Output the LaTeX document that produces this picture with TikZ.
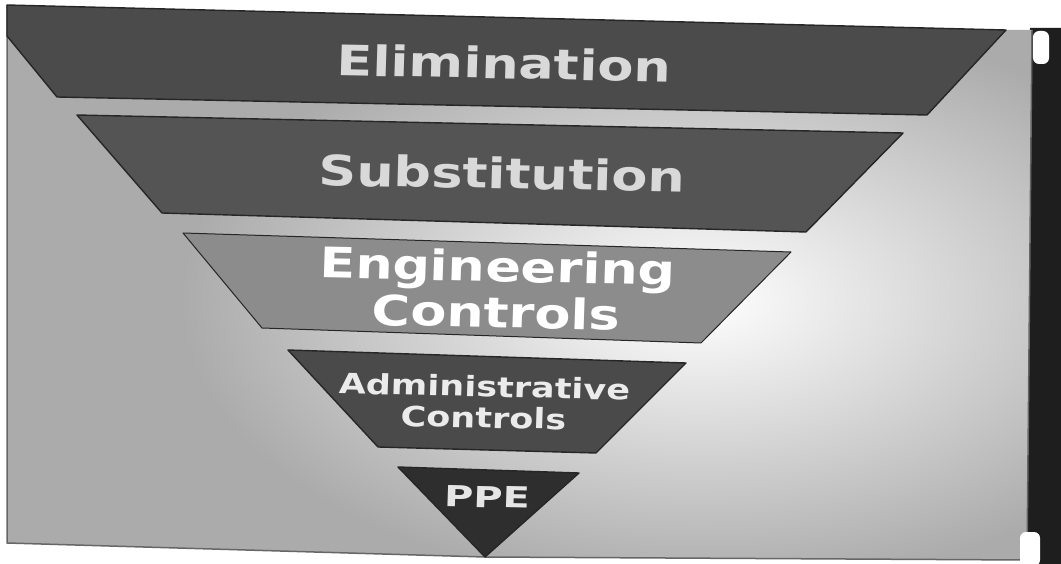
\documentclass[tikz,border=0pt]{standalone}
\usepackage{fontspec}
\newfontfamily\lblfont{DejaVu Sans}
\definecolor{panel}{HTML}{ABABAB}
\definecolor{bandelim}{HTML}{4B4B4B}
\definecolor{bandsub}{HTML}{545454}
\definecolor{bandeng}{HTML}{8C8C8C}
\definecolor{bandadm}{HTML}{4A4A4A}
\definecolor{bandppe}{HTML}{2E2E2E}
\definecolor{strip}{HTML}{1E1E1E}
\begin{document}
\begin{tikzpicture}[x=1pt,y=-1pt,
  band/.style={draw=black!85, line width=1.4pt, line join=round},
  lbl/.style={font=\lblfont\bfseries, xscale=1.25, align=center, inner sep=0pt},
]
\useasboundingbox (0,0) rectangle (1061,564);
\fill[white] (0,0) rectangle (1061,564);
% dark strip at the right
\fill[strip] (1030,28) -- (1061,28) -- (1061,564) -- (1024,564) -- cycle;
% panel background
\begin{scope}
  \clip (7,5) -- (1006,30) -- (1032,30) -- (1027,560) -- (485,557) -- (7,543) -- cycle;
  \fill[panel] (0,0) rectangle (1061,564);
  \shade[inner color=white, outer color=panel] (700,300) ellipse (520 and 290);
\end{scope}
\draw[black!60, line width=1.5pt, line join=round]
  (1032,30) -- (1027,560) -- (485,557) -- (7,543) -- (7,5);
% white corner brackets
\fill[white, rounded corners=6pt] (1033,31) rectangle (1049,64);
\fill[white, rounded corners=6pt] (1020,532) rectangle (1040,566);
% bands
\path[band, fill=bandelim] (7,5) -- (1006,30) -- (927,115) -- (57,97) -- (7,36) -- cycle;
\path[band, fill=bandsub] (77,115) -- (903,133) -- (806,232) -- (162,213) -- cycle;
\path[band, fill=bandeng, line width=1pt] (183,233) -- (791,252) -- (701,343) -- (262,328) -- cycle;
\path[band, fill=bandadm] (288,350) -- (686,363) -- (596,453) -- (378,447) -- cycle;
\path[band, fill=bandppe] (398,467) -- (579,473) -- (485,557) -- cycle;
% labels
\node[lbl, text=black!15, rotate=-1.4, font=\lblfont\bfseries\fontsize{42}{46}\selectfont] (elim) at (504,63) {Elimination};
\node[lbl, text=black!15, rotate=-1.3, font=\lblfont\bfseries\fontsize{42}{46}\selectfont] (subst) at (502,173) {Substitution};
\node[lbl, text=white, rotate=-1.5, font=\lblfont\bfseries\fontsize{42}{46}\selectfont] (eng) at (497,289) {Engineering\\Controls};
\node[lbl, text=black!8, rotate=-1.5, font=\lblfont\bfseries\fontsize{28}{31}\selectfont] (adm) at (484,402) {Administrative\\Controls};
\node[lbl, text=black!10, rotate=-1.5, xscale=1.1, font=\lblfont\bfseries\fontsize{29}{29}\selectfont] (ppe) at (487,497) {PPE};
\end{tikzpicture}
\end{document}
